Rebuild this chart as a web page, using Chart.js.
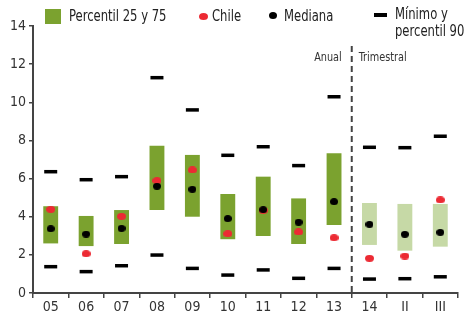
<!DOCTYPE html>
<html>
<head>
<meta charset="utf-8">
<script src="https://cdn.jsdelivr.net/npm/chart.js@4.4.1/dist/chart.umd.min.js"></script>
<style>
  html, body { margin: 0; padding: 0; background: #fff; }
  #wrap { width: 468px; height: 312px; }
</style>
</head>
<body>
<div id="wrap"><canvas id="grafico"></canvas></div>
<script>
const categorias = ['05', '06', '07', '08', '09', '10', '11', '12', '13', '14', 'II', 'III'];
const p25 = [2.6, 2.46, 2.57, 4.35, 4.0, 2.82, 2.99, 2.57, 3.57, 2.52, 2.22, 2.43];
const p75 = [4.55, 4.04, 4.35, 7.72, 7.24, 5.19, 6.1, 4.96, 7.33, 4.72, 4.67, 4.67];
const mediana = [3.37, 3.09, 3.39, 5.6, 5.44, 3.9, 4.37, 3.71, 4.79, 3.6, 3.08, 3.18];
const chile = [4.39, 2.06, 4.02, 5.89, 6.45, 3.11, 4.33, 3.2, 2.9, 1.82, 1.94, 4.88];
const minimo = [1.38, 1.12, 1.43, 1.99, 1.29, 0.94, 1.21, 0.77, 1.29, 0.73, 0.75, 0.85];
const p90 = [6.36, 5.94, 6.1, 11.29, 9.6, 7.22, 7.67, 6.68, 10.29, 7.64, 7.62, 8.22];
const nAnual = 9; // primeros 9 son anuales, el resto trimestral

const FUENTE = "'Liberation Sans Narrow', 'DejaVu Sans Condensed', sans-serif";
const verde = '#7ba22f';
const verdeClaro = '#c6d9a6';
const rojo = '#ec2a33';

function elipse(w, h, color) {
  const c = document.createElement('canvas');
  c.width = w; c.height = h;
  const g = c.getContext('2d');
  g.fillStyle = color;
  g.beginPath();
  g.ellipse(w / 2, h / 2, w / 2, h / 2, 0, 0, Math.PI * 2);
  g.fill();
  return c;
}
const puntoRojo = elipse(9, 7, rojo);
const puntoNegro = elipse(8, 7, '#000');

// texto angosto (la fuente original es condensada)
function textoAngosto(ctx, txt, x, y, escala, alinear) {
  ctx.save();
  ctx.translate(x, y);
  ctx.scale(escala, 1);
  ctx.textAlign = alinear || 'left';
  ctx.fillText(txt, 0, 0);
  ctx.restore();
}

// leyenda, separador y rotulos
const extras = {
  id: 'extras',
  afterDatasetsDraw(chart) {
    const ctx = chart.ctx;
    const x = chart.scales.x;
    const area = chart.chartArea;
    const xSep = (x.getPixelForValue(nAnual - 1) + x.getPixelForValue(nAnual)) / 2;
    ctx.save();
    ctx.strokeStyle = '#444';
    ctx.lineWidth = 2;
    ctx.setLineDash([6, 4]);
    ctx.beginPath();
    ctx.moveTo(xSep, 46);
    ctx.lineTo(xSep, area.bottom);
    ctx.stroke();
    ctx.setLineDash([]);

    ctx.fillStyle = '#333';
    ctx.font = '12px ' + FUENTE;
    ctx.textBaseline = 'middle';
    textoAngosto(ctx, 'Anual', xSep - 10, 58, 0.9, 'right');
    textoAngosto(ctx, 'Trimestral', xSep + 7, 58, 0.9, 'left');

    // leyenda
    ctx.font = '15px ' + FUENTE;
    ctx.fillStyle = verde;
    ctx.fillRect(45, 9, 16, 15);
    ctx.fillStyle = '#222';
    textoAngosto(ctx, 'Percentil 25 y 75', 69, 17, 0.86);

    ctx.drawImage(puntoRojo, 199, 13);
    textoAngosto(ctx, 'Chile', 212, 17, 0.86);

    ctx.drawImage(puntoNegro, 269, 12);
    textoAngosto(ctx, 'Mediana', 284, 17, 0.86);

    ctx.fillStyle = '#000';
    ctx.fillRect(374, 13, 13, 4);
    ctx.fillStyle = '#222';
    textoAngosto(ctx, 'Mínimo y', 395, 15, 0.86);
    textoAngosto(ctx, 'percentil 90', 395, 32, 0.86);
    ctx.restore();
  }
};

const ctx = document.getElementById('grafico').getContext('2d');
const grafico = new Chart(ctx, {
  data: {
    labels: categorias,
    datasets: [
      {
        type: 'line',
        label: 'Mediana',
        data: mediana,
        showLine: false,
        pointStyle: puntoNegro,
        order: 0
      },
      {
        type: 'line',
        label: 'Chile',
        data: chile,
        showLine: false,
        pointStyle: puntoRojo,
        order: 1
      },
      {
        type: 'line',
        label: 'Percentil 90',
        data: p90,
        showLine: false,
        pointStyle: 'line',
        pointRadius: 6.5,
        pointBorderWidth: 3.5,
        pointBorderColor: '#000',
        order: 2
      },
      {
        type: 'line',
        label: 'Mínimo',
        data: minimo,
        showLine: false,
        pointStyle: 'line',
        pointRadius: 6.5,
        pointBorderWidth: 3.5,
        pointBorderColor: '#000',
        order: 2
      },
      {
        type: 'bar',
        label: 'Percentil 25 y 75',
        data: categorias.map((_, i) => [p25[i], p75[i]]),
        backgroundColor: categorias.map((_, i) => i < nAnual ? verde : verdeClaro),
        borderSkipped: false,
        categoryPercentage: 1,
        barPercentage: 0.42,
        order: 3
      }
    ]
  },
  options: {
    responsive: true,
    maintainAspectRatio: false,
    animation: false,
    events: [],
    layout: { padding: { top: 26, right: 3, left: 0, bottom: 0 } },
    plugins: {
      legend: { display: false },
      tooltip: { enabled: false }
    },
    scales: {
      x: {
        offset: true,
        grid: {
          offset: true,
          drawOnChartArea: false,
          tickLength: 5,
          color: '#444',
          lineWidth: 1.5
        },
        border: { color: '#444', width: 2 },
        ticks: {
          color: '#333',
          padding: 1,
          font: { family: FUENTE, size: 14 }
        },
        afterFit(scale) { scale.height = 19; }
      },
      y: {
        min: 0,
        max: 14,
        ticks: {
          stepSize: 2,
          color: '#333',
          padding: 3,
          font: { family: FUENTE, size: 14 }
        },
        grid: {
          drawOnChartArea: false,
          tickLength: 4,
          color: '#444',
          lineWidth: 1.5
        },
        border: { color: '#444', width: 2 },
        afterFit(scale) { scale.width = 33; }
      }
    }
  },
  plugins: [extras]
});
</script>
</body>
</html>
